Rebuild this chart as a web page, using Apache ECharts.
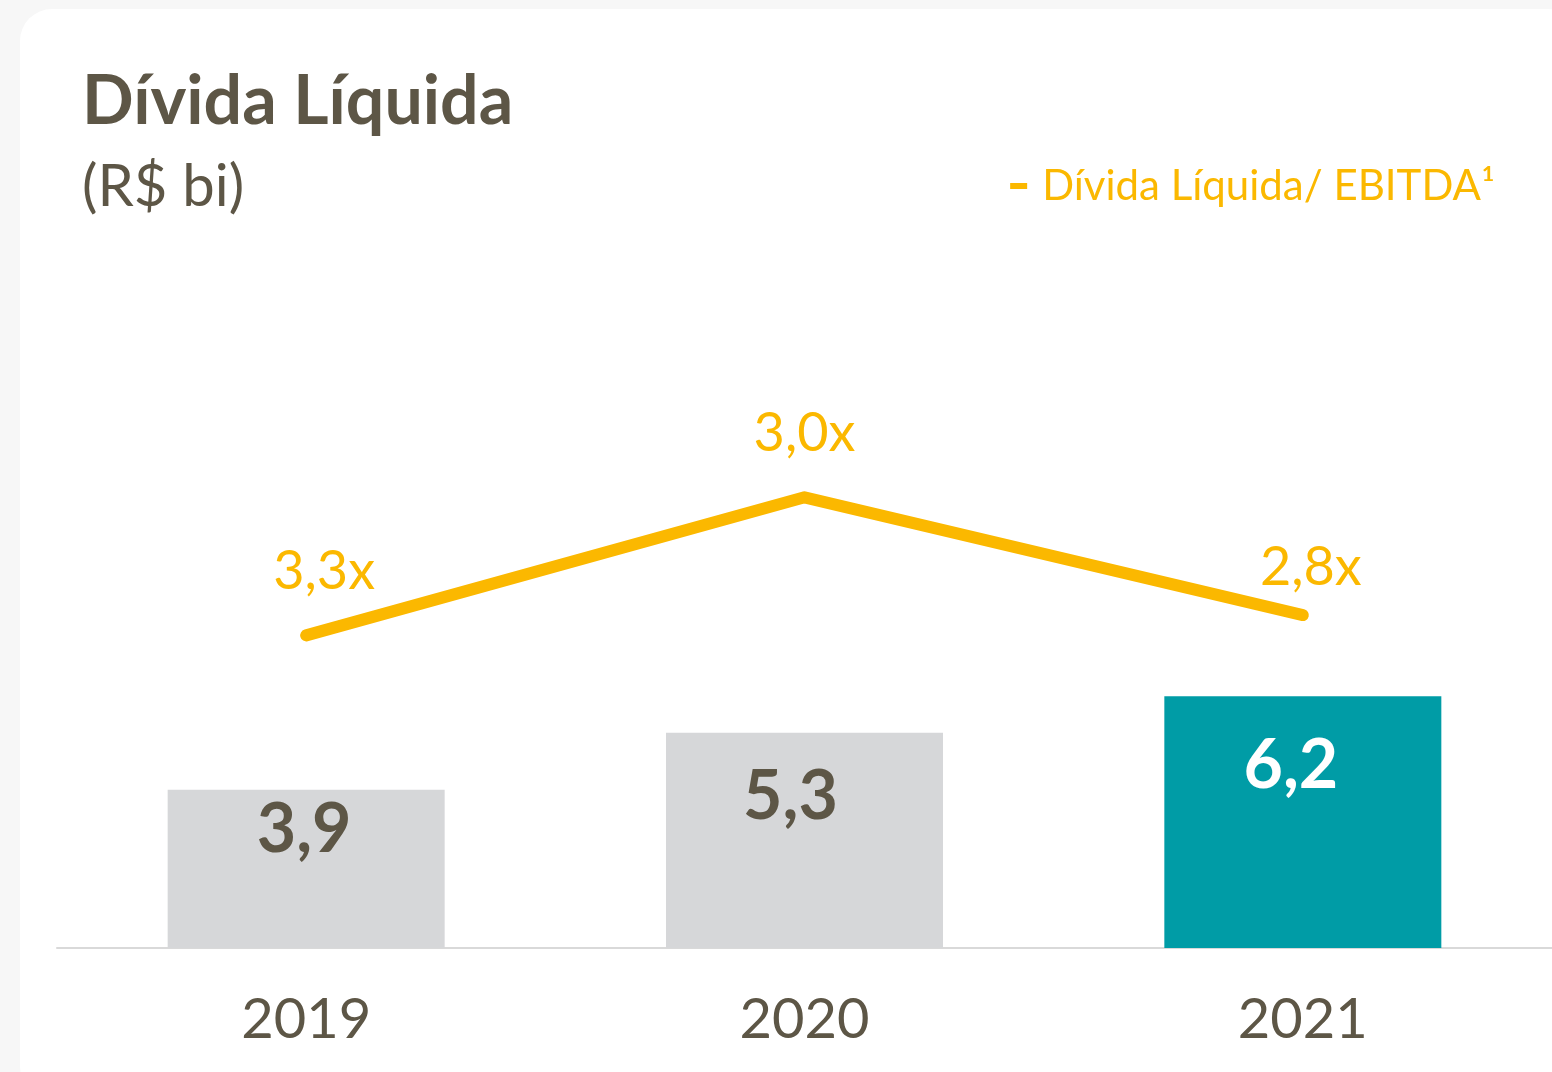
<!DOCTYPE html>
<html>
<head>
<meta charset="utf-8">
<script src="https://cdn.jsdelivr.net/npm/echarts@6/dist/echarts.min.js"></script>
<style>
    html, body { margin: 0; padding: 0; background: #f7f7f7; }
    #card {
        position: absolute; left: 20px; top: 9px; width: 1560px; height: 1090px;
        background: #fff; border-radius: 32px;
    }
    #chart { position: absolute; left: 0; top: 0; width: 1552px; height: 1072px; }
</style>
</head>
<body>
<div id="card"></div>
<div id="chart"></div>
<script>
    // dados
    var anos = ['2019', '2020', '2021'];
    var dividaLiquida = [3.9, 5.3, 6.2];
    var alavancagem = [3.3, 3.0, 2.8];          // Dívida Líquida / EBITDA
    var alturaLinha = [7.7, 11.1, 8.2];         // posição desenhada da linha (escala das barras)
    var nomeLinha = 'Dívida Líquida/ EBITDA¹';

    var corTexto = '#5d5646';
    var corLaranja = '#fbb800';
    var fonte = 'Lato, "Open Sans", sans-serif';

    // ajustes finos dos rótulos, como no slide original
    var desvioBarra = [[-2, -18], [-14, 6], [-12, 12]];
    var desvioLinha = [[18, 0], [0, 0], [8, 16]];

    var fmt = function(v, suf) {
        return v.toFixed(1).replace('.', ',') + (suf || '');
    };

    var barras = dividaLiquida.map(function(v, i) {
        var ultimo = i === dividaLiquida.length - 1;
        return {
            value: v,
            itemStyle: { color: ultimo ? '#009ca6' : '#d6d7d9' },
            label: { color: ultimo ? '#ffffff' : corTexto, offset: desvioBarra[i] }
        };
    });
    var linha = alturaLinha.map(function(v, i) {
        return { value: v, label: { offset: desvioLinha[i] } };
    });

    var chart = echarts.init(document.getElementById('chart'), null, { renderer: 'canvas' });
    var option = {
        animation: false,
        textStyle: { fontFamily: fonte },
        title: {
            text: 'Dívida Líquida',
            subtext: '(R$ bi)',
            left: 77,
            top: 63,
            itemGap: 22,
            textStyle: { color: corTexto, fontSize: 68, fontWeight: 'bold', fontFamily: fonte },
            subtextStyle: { color: corTexto, fontSize: 58, fontFamily: fonte }
        },
        legend: {
            data: [nomeLinha],
            right: 52,
            top: 160,
            icon: 'rect',
            itemWidth: 17,
            itemHeight: 6,
            itemGap: 12,
            textStyle: { color: corLaranja, fontSize: 42, fontFamily: fonte, padding: [0, 0, 0, 10] }
        },
        grid: { left: 57, right: 0, top: 136, bottom: 124 },
        xAxis: {
            type: 'category',
            data: anos,
            axisTick: { show: false },
            axisLine: { lineStyle: { color: '#d9d9d9', width: 2 } },
            axisLabel: { color: corTexto, fontSize: 56, margin: 44, fontFamily: fonte }
        },
        yAxis: {
            type: 'value',
            min: 0,
            max: 20,
            show: false
        },
        series: [{
            name: 'Dívida Líquida',
            type: 'bar',
            barWidth: 277,
            data: barras,
            label: {
                show: true,
                position: 'insideTop',
                distance: 24,
                fontSize: 68,
                fontWeight: 'bold',
                fontFamily: fonte,
                formatter: function(p) { return fmt(p.value); }
            }
        }, {
            name: nomeLinha,
            type: 'line',
            data: linha,
            symbol: 'circle',
            symbolSize: 1,
            showSymbol: true,
            lineStyle: { color: corLaranja, width: 12, cap: 'round', join: 'round' },
            itemStyle: { color: corLaranja },
            label: {
                show: true,
                position: 'top',
                distance: 36,
                color: corLaranja,
                fontSize: 54,
                fontFamily: fonte,
                formatter: function(p) { return fmt(alavancagem[p.dataIndex], 'x'); }
            }
        }]
    };
    chart.setOption(option);
</script>
</body>
</html>
